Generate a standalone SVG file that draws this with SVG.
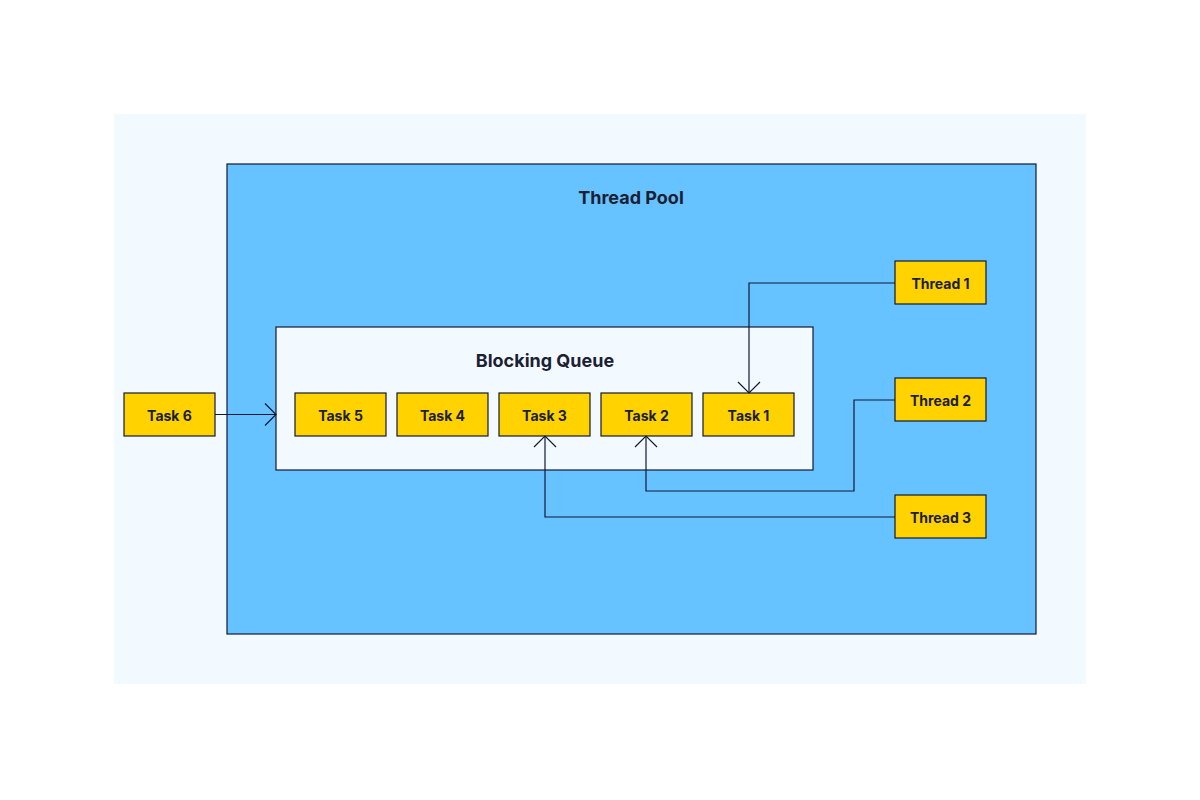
<svg xmlns="http://www.w3.org/2000/svg" width="1200" height="800" viewBox="0 0 1200 800">
<defs>
<style>
.box{fill:#FFD200;stroke:#111936;stroke-width:1.2}
.lbl{font-family:Inter,"Noto Sans","Liberation Sans",sans-serif;font-weight:700;font-size:14px;fill:#1B2034;text-anchor:middle;dominant-baseline:central}
.title{font-family:Inter,"Noto Sans","Liberation Sans",sans-serif;font-weight:700;font-size:18px;fill:#1B2034;text-anchor:middle;dominant-baseline:central}
.conn{fill:none;stroke:#111936;stroke-width:1.2}
</style>
<marker id="arr" viewBox="-12 -12 14 24" markerWidth="14" markerHeight="24" refX="0" refY="0" orient="auto" markerUnits="userSpaceOnUse">
<path d="M-11,-11 L0,0 L-11,11" fill="none" stroke="#111936" stroke-width="1.2"/>
</marker>
</defs>
<rect width="1200" height="800" fill="#FFFFFF"/>
<rect x="114" y="114" width="972" height="570" fill="#F3FAFF"/>
<g id="thread-pool">
<rect x="227" y="164" width="809" height="470" fill="#66C3FF" stroke="#111936" stroke-width="1.2"/>
<text class="title" x="631" y="197">Thread Pool</text>
</g>
<g id="blocking-queue">
<rect x="276" y="327" width="537" height="143" fill="#F3FAFF" stroke="#111936" stroke-width="1.2"/>
<text class="title" x="545" y="360">Blocking Queue</text>
</g>
<g id="task6"><rect class="box" x="124" y="393" width="91" height="43"/><text class="lbl" x="169.5" y="415">Task 6</text></g>
<g id="task5"><rect class="box" x="295" y="393" width="91" height="43"/><text class="lbl" x="340.5" y="415">Task 5</text></g>
<g id="task4"><rect class="box" x="397" y="393" width="91" height="43"/><text class="lbl" x="442.5" y="415">Task 4</text></g>
<g id="task3"><rect class="box" x="499" y="393" width="91" height="43"/><text class="lbl" x="544.5" y="415">Task 3</text></g>
<g id="task2"><rect class="box" x="601" y="393" width="91" height="43"/><text class="lbl" x="646.5" y="415">Task 2</text></g>
<g id="task1"><rect class="box" x="703" y="393" width="91" height="43"/><text class="lbl" x="748.5" y="415">Task 1</text></g>
<g id="thread1"><rect class="box" x="895" y="261" width="91" height="43"/><text class="lbl" x="940.5" y="283">Thread 1</text></g>
<g id="thread2"><rect class="box" x="895" y="378" width="91" height="43"/><text class="lbl" x="940.5" y="400">Thread 2</text></g>
<g id="thread3"><rect class="box" x="895" y="495" width="91" height="43"/><text class="lbl" x="940.5" y="517">Thread 3</text></g>
<g id="connectors">
<path class="conn" d="M215,414.5 L276,414.5" marker-end="url(#arr)"/>
<path class="conn" d="M895,283 L749,283 L749,393" marker-end="url(#arr)"/>
<path class="conn" d="M895,400 L854,400 L854,491 L646,491 L646,436" marker-end="url(#arr)"/>
<path class="conn" d="M895,517 L545,517 L545,436" marker-end="url(#arr)"/>
</g>
</svg>
